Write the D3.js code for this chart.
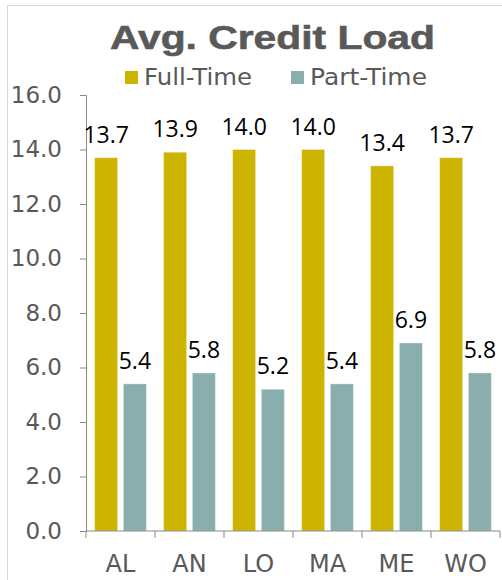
<!DOCTYPE html>
<html>
<head>
<meta charset="utf-8">
<script src="https://cdn.jsdelivr.net/npm/d3@7"></script>
<style>
  body { margin: 0; background: #fff; }
</style>
</head>
<body>
<div id="chart"></div>
<script>
// Data
const campuses = ['AL', 'AN', 'LO', 'MA', 'ME', 'WO'];
const seriesNames = ['Full-Time', 'Part-Time'];
const fullTime = [13.7, 13.9, 14.0, 14.0, 13.4, 13.7];
const partTime = [5.4, 5.8, 5.2, 5.4, 6.9, 5.8];
const yTicks = [0, 2, 4, 6, 8, 10, 12, 14, 16];

const colors = { 'Full-Time': '#ccb400', 'Part-Time': '#8aadad' };
const gray = '#595959';

const svgWidth = 502;
const svgHeight = 580;

const svg = d3.select('#chart')
    .append('svg')
    .attr('width', svgWidth)
    .attr('height', svgHeight);

// outer frame
svg.append('rect')
    .attr('x', 7.5).attr('y', 5.5)
    .attr('width', 520).attr('height', 600)
    .attr('fill', '#fff')
    .attr('stroke', '#d9d9d9');

// title
svg.append('text')
    .text('Avg. Credit Load')
    .attr('x', 110).attr('y', 49)
    .attr('textLength', 325)
    .attr('lengthAdjust', 'spacingAndGlyphs')
    .style('font-family', 'Liberation Sans, Arial, sans-serif')
    .style('font-weight', 'bold')
    .style('font-size', '34px')
    .style('stroke', gray)
    .style('stroke-width', 0.6)
    .attr('fill', gray);

// legend
const legendX = [125, 291];
const legendLen = [108, 117];
seriesNames.forEach((name, i) => {
    svg.append('rect')
        .attr('x', legendX[i]).attr('y', 71)
        .attr('width', 13).attr('height', 13)
        .attr('fill', colors[name]);
    svg.append('text')
        .text(name)
        .attr('x', legendX[i] + 19).attr('y', 85)
        .attr('textLength', legendLen[i])
        .attr('lengthAdjust', 'spacingAndGlyphs')
        .style('font-family', 'DejaVu Sans, sans-serif')
        .style('font-size', '23px')
        .attr('fill', gray);
});

// scales
const yScale = d3.scaleLinear()
    .domain([0, 16])
    .range([531, 95]);

const xScale = d3.scaleBand()
    .domain(campuses)
    .range([86, 500]);

const xInner = d3.scaleBand()
    .domain(seriesNames)
    .range([0, xScale.bandwidth()])
    .paddingInner(0.2)
    .paddingOuter(0.3);

// y axis
const yAxis = svg.append('g')
    .attr('transform', 'translate(86,0)')
    .call(d3.axisLeft(yScale)
        .tickValues(yTicks)
        .tickFormat(d3.format('.1f'))
        .tickSize(6)
        .tickSizeOuter(6)
        .tickPadding(18));
yAxis.selectAll('path, line').attr('stroke', '#898989');
yAxis.selectAll('text')
    .style('font-family', 'DejaVu Sans, sans-serif')
    .style('font-size', '23px')
    .attr('fill', gray);

// bars
const rows = campuses.map((c, i) => ({ campus: c, values: [
    { key: 'Full-Time', value: fullTime[i] },
    { key: 'Part-Time', value: partTime[i] }
]}));

const groups = svg.selectAll('.campus')
    .data(rows)
    .enter()
    .append('g')
    .attr('class', 'campus')
    .attr('transform', d => `translate(${xScale(d.campus)},0)`);

groups.selectAll('rect')
    .data(d => d.values)
    .enter()
    .append('rect')
    .attr('x', d => xInner(d.key))
    .attr('y', d => yScale(d.value))
    .attr('width', xInner.bandwidth())
    .attr('height', d => yScale(0) - yScale(d.value))
    .attr('fill', d => colors[d.key])
    .attr('stroke', '#ffffff')
    .attr('stroke-opacity', 0.35);

// value labels
groups.selectAll('.val')
    .data(d => d.values)
    .enter()
    .append('text')
    .attr('class', 'val')
    .text(d => d.value.toFixed(1))
    .attr('x', d => xInner(d.key) + xInner.bandwidth() / 2)
    .attr('y', d => yScale(d.value) - 15)
    .attr('text-anchor', 'middle')
    .style('font-family', 'Open Sans, Noto Sans, sans-serif')
    .style('font-size', '23px')
    .attr('fill', '#000');

// x axis: baseline with ticks at the category boundaries
const xAxis = svg.append('g');
xAxis.append('line')
    .attr('x1', 86).attr('x2', 500)
    .attr('y1', yScale(0)).attr('y2', yScale(0))
    .attr('stroke', '#898989');
const bounds = campuses.map(c => xScale(c)).concat([xScale.range()[1]]);
xAxis.selectAll('.xtick')
    .data(bounds)
    .enter()
    .append('line')
    .attr('x1', d => d).attr('x2', d => d)
    .attr('y1', yScale(0)).attr('y2', yScale(0) + 7)
    .attr('stroke', '#898989');
xAxis.selectAll('.xlabel')
    .data(campuses)
    .enter()
    .append('text')
    .text(d => d)
    .attr('x', d => xScale(d) + xScale.bandwidth() / 2)
    .attr('y', 572)
    .attr('text-anchor', 'middle')
    .style('font-family', 'DejaVu Sans, sans-serif')
    .style('font-size', '24px')
    .attr('fill', gray);
</script>
</body>
</html>
